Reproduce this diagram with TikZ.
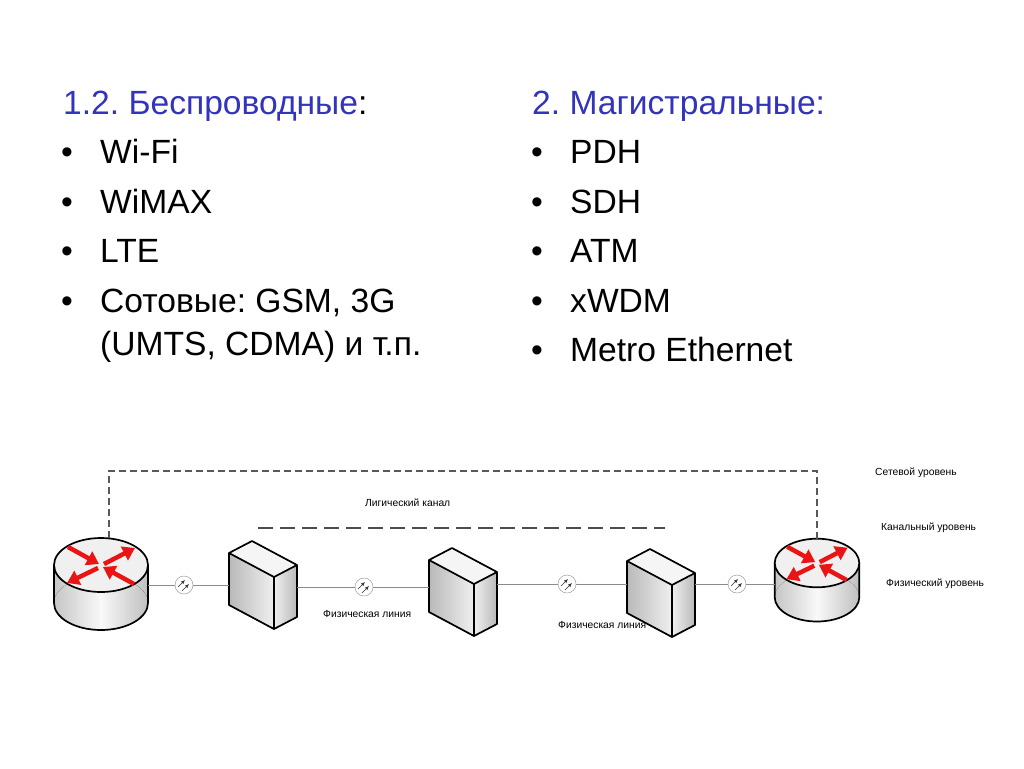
\documentclass[tikz,border=0pt]{standalone}
\usepackage{fontspec}
\setmainfont{Liberation Sans}
\usetikzlibrary{positioning,arrows.meta}
\frenchspacing

\definecolor{headblue}{RGB}{51,51,187}
\definecolor{linegray}{RGB}{140,140,140}
\definecolor{arrowred}{RGB}{235,20,20}

\tikzset{
  bigtext/.style={font=\fontsize{33.6}{38}\selectfont, anchor=base west, inner sep=0pt},
  smalltext/.style={font=\fontsize{10.3}{12}\selectfont, anchor=west, inner sep=0pt},
  physline/.style={draw=linegray, line width=0.8pt},
  netdash/.style={draw=black!65, line width=1.2pt, dash pattern=on 7pt off 4pt},
  chandash/.style={draw=black!70, line width=1.5pt, dash pattern=on 15pt off 7pt},
  redarrow/.style={draw=arrowred, line width=4.5pt, -{Triangle[length=12pt,width=15pt]}},
  outline/.style={draw=black, line width=1.7pt, line join=round},
  repeater/.style={circle, draw=linegray, fill=white, minimum size=18pt, inner sep=0pt,
    path picture={
      \draw[black!80, line width=0.6pt, -{Latex[length=4pt,width=3.5pt]}]
        ([shift={(-6pt,-2pt)}]path picture bounding box.center) -- ++(7pt,7pt);
      \draw[black!80, line width=0.6pt, -{Latex[length=4pt,width=3.5pt]}]
        ([shift={(-2pt,-6pt)}]path picture bounding box.center) -- ++(7pt,7pt);
    }},
  pics/router/.style={code={
    \fill[left color=gray!45, right color=gray!50, middle color=gray!5] (-47,0) rectangle (47,38);
    \fill[left color=gray!45, right color=gray!50, middle color=gray!5] (0,38) ellipse [x radius=47, y radius=27];
    \draw[outline] (-47,0) -- (-47,38) arc[start angle=180, end angle=0, x radius=47, y radius=27] -- (47,0);
    \draw[outline, fill=gray!12] (0,0) ellipse [x radius=47, y radius=27];
    \draw[redarrow] (-33,-18) -- (-2,-1);
    \draw[redarrow] (3,-1) -- (34,-17);
    \draw[redarrow] (-3,3) -- (-34,18);
    \draw[redarrow] (33,19) -- (2,2);
    \coordinate (-west) at (-47,20);
    \coordinate (-east) at (47,20);
    \coordinate (-top) at (0,-27);
  }},
  pics/switchbox/.style={code={
    \fill[left color=gray!55, right color=gray!12] (0,0) -- (45,24) -- (45,76) -- (0,52) -- cycle;
    \fill[left color=gray!12, right color=gray!55] (45,24) -- (68,12) -- (68,64) -- (45,76) -- cycle;
    \fill[gray!8] (0,0) -- (23,-12) -- (68,12) -- (45,24) -- cycle;
    \draw[outline] (0,0) -- (23,-12) -- (68,12) -- (68,64) -- (45,76) -- (0,52) -- cycle;
    \draw[outline] (0,0) -- (45,24) -- (68,12);
    \draw[outline] (45,24) -- (45,76);
    \coordinate (-west) at (0,30);
    \coordinate (-east) at (68,30);
    \coordinate (-top) at (23,-12);
  }},
}

\begin{document}
\begin{tikzpicture}[x=1pt, y=-1pt]
  \useasboundingbox (0,0) rectangle (1024,768);
  \fill[white] (0,0) rectangle (1024,768);

  % left column
  \node[bigtext] (wireless) at (63,114) {{\color{headblue}1.2. Беспроводные}:};
  \foreach \txt [count=\i] in {Wi-Fi, WiMAX, LTE, {Сотовые: GSM, 3G}} {
    \node[bigtext] (lbul\i) at (61,114+49.5*\i) {•};
    \node[bigtext] (litem\i) at (100,114+49.5*\i) {\txt};
  }
  \node[bigtext] (litem5) at (100,355) {(UMTS, CDMA) и т.п.};

  % right column
  \node[bigtext, text=headblue] (backbone) at (532,114) {2. Магистральные:};
  \foreach \txt [count=\i] in {PDH, SDH, ATM, xWDM, Metro Ethernet} {
    \node[bigtext] (rbul\i) at (531,114+49.5*\i) {•};
    \node[bigtext] (ritem\i) at (570,114+49.5*\i) {\txt};
  }

  % network
  \pic (r1) at (101,565) {router};
  \pic[scale=0.9] (r2) at (817,563) {router};
  \pic (b1) at (229,553) {switchbox};
  \pic (b2) at (429,560) {switchbox};
  \pic (b3) at (627,561) {switchbox};

  \node[repeater] (c1) at (184,585) {};
  \node[repeater] (c2) at (364,587) {};
  \node[repeater] (c3) at (567,584) {};
  \node[repeater] (c4) at (737,584) {};

  \draw[physline] (r1-east) -- (c1) -- (c1 -| b1-west);
  \draw[physline] (c2 -| b1-east) -- (c2) -- (c2 -| b2-west);
  \draw[physline] (c3 -| b2-east) -- (c3) -- (c3 -| b3-west);
  \draw[physline] (c4 -| b3-east) -- (c4) -- (c4 -| r2-west);

  \draw[netdash] ([xshift=8pt]r1-top) -- ++(0,-67) -| (r2-top);
  \coordinate (lc-start) at (258,528);
  \coordinate (lc-end) at (665,528);
  \draw[chandash] (lc-start) -- (lc-end);

  % labels
  \node[smalltext] (netlevel) at (875,473) {Сетевой уровень};
  \node[smalltext] (linklevel) at (881,528) {Канальный уровень};
  \node[smalltext] (physlevel) at (886,584) {Физический уровень};
  \node[smalltext] (logchan) at (365,503) {Лигический канал};
  \node[smalltext] (physline1) at (323,614) {Физическая линия};
  \node[smalltext] (physline2) at (558,625) {Физическая линия};
\end{tikzpicture}
\end{document}
